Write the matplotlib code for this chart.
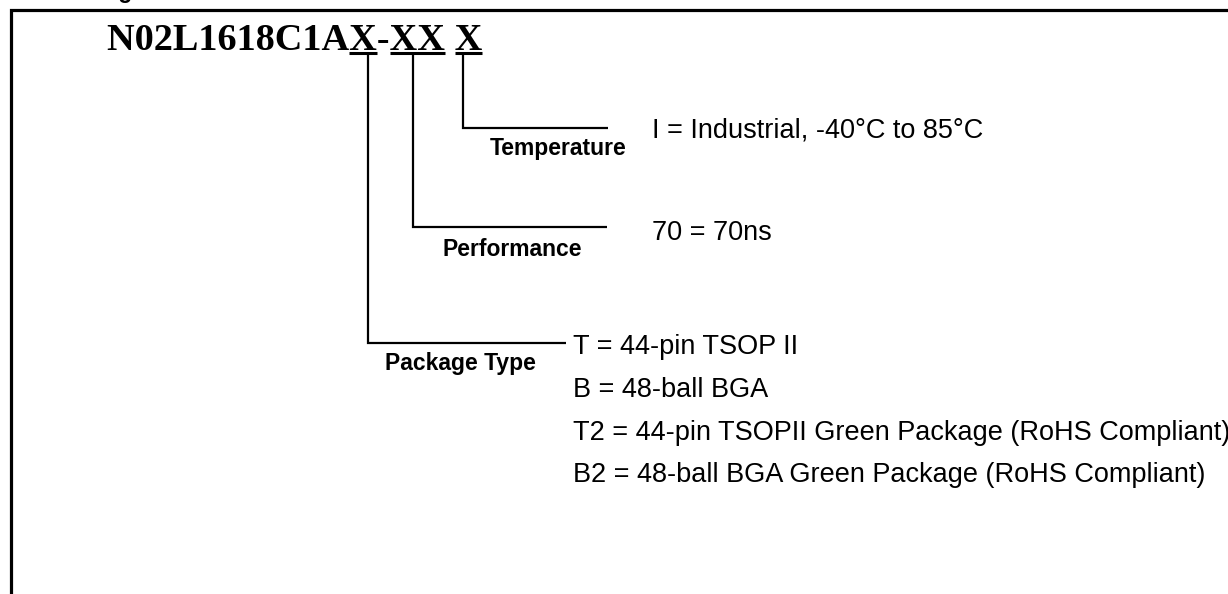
import matplotlib
matplotlib.use("Agg")
import matplotlib.pyplot as plt

# part number and its coded fields
part_number = "N02L1618C1AX-XX X"
coded_fields = ["X", "XX", "X"]          # underlined pieces, left to right
field_ends = [12, 15, 17]                # index just after each coded piece

# field labels and their option texts
field_names = ["Temperature", "Performance", "Package Type"]
temperature_opts = ["I = Industrial, -40°C to 85°C"]
performance_opts = ["70 = 70ns"]
package_opts = ["T = 44-pin TSOP II",
                "B = 48-ball BGA",
                "T2 = 44-pin TSOPII Green Package (RoHS Compliant)",
                "B2 = 48-ball BGA Green Package (RoHS Compliant)"]
heading = "Ordering Information"

W, H = 1228, 594
fig = plt.figure(figsize=(W / 100, H / 100), dpi=100)
ax = fig.add_axes([0, 0, 1, 1])
ax.set_xlim(0, W)
ax.set_ylim(H, 0)
ax.axis('off')

sans = 'Liberation Sans'
serif = 'Liberation Serif'

# heading cut off by the top edge, only the descender shows
ax.text(36, -2, heading, family=sans, weight='bold', fontsize=16.5,
        ha='left', va='baseline', clip_on=False)

# frame
ax.plot([10.5, 10.5, W], [H, 10, 10], color='black', lw=2.3,
        solid_joinstyle='miter', solid_capstyle='butt')

# part number
tx, ty = 107, 50
title = ax.text(tx, ty, part_number, family=serif, weight='bold', fontsize=27.5,
                ha='left', va='baseline')

fig.canvas.draw()
r = fig.canvas.get_renderer()
inv = ax.transData.inverted()


def text_width(s):
    t = ax.text(0, 0, s, family=serif, weight='bold', fontsize=27.5)
    bb = t.get_window_extent(renderer=r)
    t.remove()
    x0 = inv.transform((bb.x0, 0))[0]
    x1 = inv.transform((bb.x1, 0))[0]
    return x1 - x0


for seg, end in zip(coded_fields, field_ends):
    xe = tx + text_width(part_number[:end])
    xs = xe - text_width(seg)
    ax.plot([xs, xe], [52.5, 52.5], color='black', lw=2.2, solid_capstyle='butt')

# leader lines: stem x, elbow y, branch end x
stem_x = [463, 413, 368]
elbow_y = [128, 227, 343]
branch_end = [608, 607, 566]
for sx, ey, bx in zip(stem_x, elbow_y, branch_end):
    ax.plot([sx, sx, bx], [52, ey, ey], color='black', lw=1.6,
            solid_joinstyle='miter', solid_capstyle='butt')

# field labels
label_x = [558, 512, 460]
label_y = [155, 256, 370]
for name, lx, ly in zip(field_names, label_x, label_y):
    ax.text(lx, ly, name, family=sans, weight='bold', fontsize=16.5,
            ha='center', va='baseline')

# option texts
body = dict(family=sans, fontsize=19.5, ha='left', va='baseline')
ax.text(652, 137.5, temperature_opts[0], **body)
ax.text(652, 239.5, performance_opts[0], **body)
for i, opt in enumerate(package_opts):
    ax.text(573, 354.5 + i * 42.5, opt, **body)

fig.savefig("out.png", dpi=100)
